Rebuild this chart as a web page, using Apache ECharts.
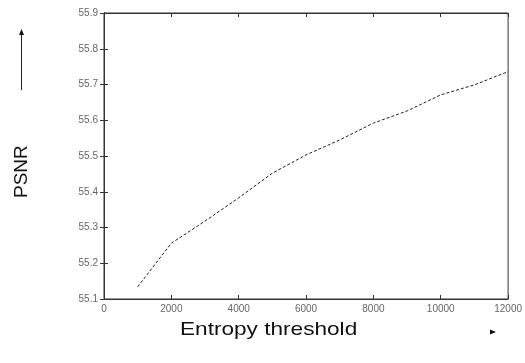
<!DOCTYPE html>
<html>
<head>
<meta charset="utf-8">
<script src="https://cdn.jsdelivr.net/npm/echarts@6/dist/echarts.min.js"></script>
<style>html,body{margin:0;padding:0;background:#fff;}#c{width:525px;height:363px;}</style>
</head>
<body>
<div id="c"></div>
<script>
var thresholds = [1000, 2000, 3000, 4000, 5000, 6000, 7000, 8000, 9000, 10000, 11000, 12000];
var psnr = [55.134, 55.256, 55.318, 55.383, 55.452, 55.503, 55.545, 55.592, 55.626, 55.671, 55.699, 55.736];
var xTicks = [0, 2000, 4000, 6000, 8000, 10000, 12000];
var yTicks = [55.1, 55.2, 55.3, 55.4, 55.5, 55.6, 55.7, 55.8, 55.9];
var xTitle = 'Entropy threshold';
var yTitle = 'PSNR';

var chart = echarts.init(document.getElementById('c'), null, {renderer: 'canvas'});
var labelStyle = {fontFamily: 'Liberation Sans', fontSize: 10, color: '#666'};
var tick = {show: true, inside: true, length: 4, lineStyle: {color: '#333', width: 1}};
var line = {show: true, lineStyle: {color: '#333', width: 1}};
chart.setOption({
  animation: false,
  backgroundColor: '#fff',
  grid: {left: 104, right: 13, top: 13, bottom: 64, show: true, borderColor: '#333', borderWidth: 1, backgroundColor: 'transparent'},
  xAxis: [{
    type: 'value', min: xTicks[0], max: xTicks[xTicks.length - 1], interval: xTicks[1] - xTicks[0],
    axisLine: line, axisTick: tick, splitLine: {show: false},
    axisLabel: Object.assign({margin: 5, formatter: function (v) { return String(v); }}, labelStyle)
  }, {
    type: 'value', position: 'top', min: xTicks[0], max: xTicks[xTicks.length - 1], interval: xTicks[1] - xTicks[0],
    axisLine: line, axisTick: tick, splitLine: {show: false}, axisLabel: {show: false}
  }],
  yAxis: [{
    type: 'value', min: yTicks[0], max: yTicks[yTicks.length - 1], interval: 0.1,
    axisLine: line, axisTick: tick, splitLine: {show: false},
    axisLabel: Object.assign({margin: 6, formatter: function (v) { return v.toFixed(1); }}, labelStyle)
  }, {
    type: 'value', position: 'right', min: yTicks[0], max: yTicks[yTicks.length - 1], interval: 0.1,
    axisLine: line, axisTick: tick, splitLine: {show: false}, axisLabel: {show: false}
  }],
  series: [{
    type: 'line', data: thresholds.map(function (t, i) { return [t, psnr[i]]; }),
    showSymbol: false, symbol: 'none',
    lineStyle: {color: '#222', width: 1, type: [3, 2]}
  }],
  graphic: [
    {type: 'text', x: 180, y: 320, scaleX: 1.19, style: {text: xTitle, font: '19px "Liberation Sans"', fill: '#111'}},
    {type: 'text', x: 12, y: 198, rotation: Math.PI / 2, style: {text: yTitle, font: '19px "Liberation Sans"', fill: '#111'}},
    {type: 'line', shape: {x1: 21.5, y1: 90, x2: 21.5, y2: 33}, style: {stroke: '#222', lineWidth: 1}},
    {type: 'polygon', shape: {points: [[21.5, 29], [19, 35], [24, 35]]}, style: {fill: '#111'}},
    {type: 'polygon', shape: {points: [[496, 332], [490, 329.5], [490, 334.5]]}, style: {fill: '#111'}}
  ]
});
</script>
</body>
</html>
